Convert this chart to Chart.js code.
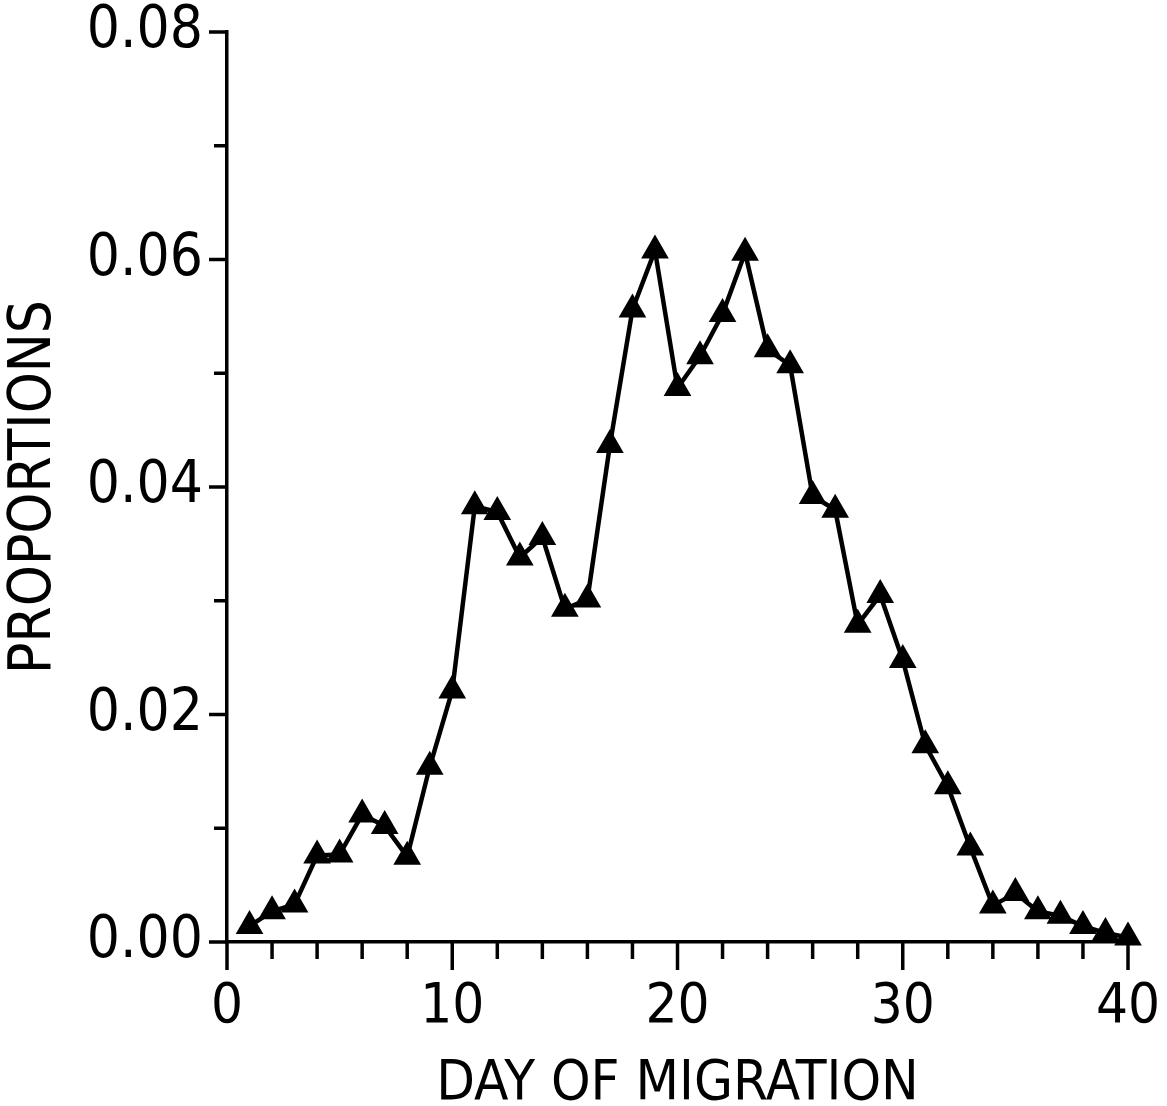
<!DOCTYPE html>
<html>
<head>
<meta charset="utf-8">
<script src="https://cdn.jsdelivr.net/npm/chart.js@4.4.1/dist/chart.umd.min.js"></script>
<style>
  html, body { margin: 0; padding: 0; background: #ffffff; }
  #wrap { width: 1167px; height: 1106px; position: relative; }
</style>
</head>
<body>
<div id="wrap"><canvas id="c" width="1167" height="1106"></canvas></div>
<script>
// ---- data ----
const days = [1,2,3,4,5,6,7,8,9,10,11,12,13,14,15,16,17,18,19,20,21,22,23,24,25,26,27,28,29,30,31,32,33,34,35,36,37,38,39,40];
const proportions = [0.0014,0.0027,0.0033,0.0076,0.0077,0.0112,0.0102,0.0075,0.0154,0.0221,
                     0.0383,0.0378,0.0338,0.0356,0.0293,0.0301,0.0437,0.0556,0.0608,0.0487,
                     0.0515,0.0552,0.0606,0.0521,0.0507,0.0392,0.0380,0.0279,0.0305,0.0248,
                     0.0173,0.0137,0.0083,0.0032,0.0043,0.0027,0.0023,0.0014,0.0008,0.0004];
const xMajorTicks = [0,10,20,30,40];
const xMinorTicks = [2,4,6,8,12,14,16,18,22,24,26,28,32,34,36,38];
const yMajorTicks = [0,0.02,0.04,0.06,0.08];
const yMinorTicks = [0.01,0.03,0.05,0.07];
const xTitle = 'DAY OF MIGRATION';
const yTitle = 'PROPORTIONS';

const FONT = "'Liberation Sans Narrow', 'DejaVu Sans Condensed', 'Liberation Sans', sans-serif";

const tickPlugin = {
  id: 'outerTicks',
  afterDraw(chart) {
    const ctx = chart.ctx;
    const xs = chart.scales.x, ys = chart.scales.y;
    const left = chart.chartArea.left, bottom = chart.chartArea.bottom;
    ctx.save();
    ctx.strokeStyle = '#000';
    ctx.lineWidth = 3.5;
    ctx.lineCap = 'butt';
    const vt = (v, len) => {
      const px = xs.getPixelForValue(v);
      ctx.beginPath(); ctx.moveTo(px, bottom); ctx.lineTo(px, bottom + len); ctx.stroke();
    };
    const ht = (v, len) => {
      const py = ys.getPixelForValue(v);
      ctx.beginPath(); ctx.moveTo(left, py); ctx.lineTo(left - len, py); ctx.stroke();
    };
    xMajorTicks.forEach(v => vt(v, 28));
    xMinorTicks.forEach(v => vt(v, 17));
    yMajorTicks.forEach(v => ht(v, 18));
    yMinorTicks.forEach(v => ht(v, 13));
    ctx.restore();
  }
};

new Chart(document.getElementById('c'), {
  type: 'scatter',
  data: {
    datasets: [{
      data: days.map((d, i) => ({ x: d, y: proportions[i] })),
      showLine: true,
      borderColor: '#000',
      backgroundColor: '#000',
      borderWidth: 4.5,
      tension: 0,
      pointStyle: 'triangle',
      pointRadius: 13,
      pointBorderWidth: 3,
      pointBackgroundColor: '#000',
      pointBorderColor: '#000',
      clip: false
    }]
  },
  options: {
    responsive: false,
    animation: false,
    devicePixelRatio: 1,
    events: [],
    plugins: { legend: { display: false }, tooltip: { enabled: false } },
    layout: { padding: { top: 32, right: 39, left: 0, bottom: 0 } },
    scales: {
      x: {
        type: 'linear',
        min: 0, max: 40,
        afterFit(s) { s.height = 164; s.paddingLeft = 0; s.paddingRight = 0; },
        grid: { display: false, drawTicks: false },
        border: { display: true, color: '#000', width: 3.5 },
        ticks: {
          stepSize: 10,
          padding: 32,
          color: '#000',
          font: { family: FONT, size: 56 },
          maxRotation: 0,
          callback: (v) => String(v)
        },
        title: {
          display: true, text: xTitle, color: '#000',
          font: { family: FONT, size: 56, lineHeight: 1.0 },
          padding: { top: 0, bottom: -6 }
        }
      },
      y: {
        type: 'linear',
        min: 0, max: 0.08,
        afterFit(s) { s.width = 227; s.paddingTop = 0; s.paddingBottom = 0; },
        grid: { display: false, drawTicks: false },
        border: { display: true, color: '#000', width: 3.5 },
        ticks: {
          stepSize: 0.02,
          padding: 24,
          color: '#000',
          font: { family: FONT, size: 58 },
          callback: (v) => Number(v).toFixed(2)
        },
        title: {
          display: true, text: yTitle, color: '#000',
          font: { family: FONT, size: 58, lineHeight: 1.0 },
          padding: { top: 6, bottom: 0 }
        }
      }
    }
  },
  plugins: [tickPlugin]
});
</script>
</body>
</html>
